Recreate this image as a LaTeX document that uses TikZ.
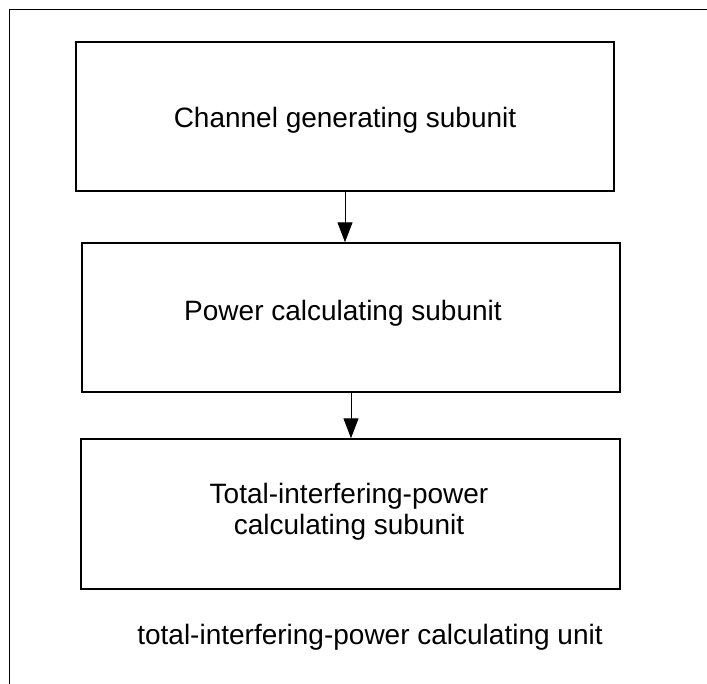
\documentclass[tikz,border=0pt]{standalone}
\usepackage{fontspec}
\setmainfont{Liberation Sans}
\usetikzlibrary{arrows.meta}
\begin{document}
\begin{tikzpicture}[x=1pt,y=-1pt,
  unitbox/.style={draw=black,line width=1.5pt,minimum width=#1,inner sep=0pt},
  lbl/.style={font=\fontsize{28}{31}\selectfont,align=center,inner sep=0pt},
  conn/.style={draw=black,line width=1pt,-{Triangle[width=15pt,length=20pt]}}]
\useasboundingbox (0,0) rectangle (707,683);
\fill[white] (0,0) rectangle (707,683);
% outer frame (only top and left edges visible)
\coordinate (ftr) at (710,9.5);
\coordinate (ftl) at (9.5,9.5);
\coordinate (fbl) at (9.5,690);
\draw[line width=1.5pt] (ftr) -- (ftl) -- (fbl);
% boxes
\node[draw=black,line width=1.5pt,minimum width=538pt,minimum height=149pt,inner sep=0pt] (b1) at (345,116.5) {};
\node[draw=black,line width=1.5pt,minimum width=538pt,minimum height=149pt,inner sep=0pt] (b2) at (351,317.5) {};
\node[draw=black,line width=1.5pt,minimum width=539pt,minimum height=150pt,inner sep=0pt] (b3) at (350.5,514) {};
% texts
\node[lbl,anchor=base] (t1) at (345,127) {Channel generating subunit};
\node[lbl,anchor=base] (t2) at (343,320) {Power calculating subunit};
\node[lbl] (t3) at (349,512) {Total-interfering-power\\ calculating subunit};
\node[lbl,anchor=base] (t4) at (370,644) {total-interfering-power calculating unit};
% connectors
\draw[conn] (b1.south) -- (b1.south |- b2.north);
\draw[conn] (b2.south) -- (b2.south |- b3.north);
\end{tikzpicture}
\end{document}
